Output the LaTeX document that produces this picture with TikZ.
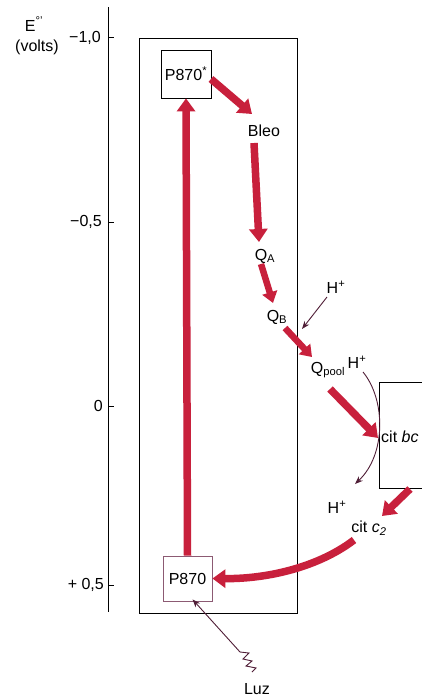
\documentclass[tikz,border=0pt]{standalone}
\usepackage{fontspec}
\setmainfont{Liberation Sans}
\usetikzlibrary{arrows.meta}
\definecolor{redarrow}{RGB}{200,32,60}
\definecolor{thinline}{RGB}{80,30,55}
\definecolor{boxmauve}{RGB}{140,90,115}
\begin{document}
\begin{tikzpicture}[x=1pt,y=-1pt,
  lbl/.style={font=\fontsize{16}{18}\selectfont, inner sep=0pt},
  bigarrow/.style={draw=redarrow, line width=7.5pt, -{Triangle[width=18pt,length=13pt]}},
  midarrow/.style={draw=redarrow, line width=6.5pt, -{Triangle[width=15pt,length=11pt]}},
  thinarrow/.style={draw=thinline, line width=0.9pt, -{Stealth[width=6pt,length=8pt]}},
  pbox/.style={draw, line width=0.8pt, inner sep=0pt, font=\fontsize{16}{18}\selectfont}
]
\clip (0,0) rectangle (422,697);
\fill[white] (0,0) rectangle (422,697);

% axis
\draw[line width=1pt] (108,7) -- (108,612);
\foreach \yy in {37,222,406,585} \draw[line width=0.8pt] (108,\yy) -- (114,\yy);
\node[lbl] (elabel) at (34,24) {E\textsuperscript{°'}};
\node[lbl] (volts) at (37,47) {(volts)};
\node[lbl, anchor=east] (t1) at (101,38) {−1,0};
\node[lbl, anchor=east] (t2) at (102,222) {−0,5};
\node[lbl, anchor=east] (t3) at (103,406) {0};
\node[lbl, anchor=east] (t4) at (104,585) {+ 0,5};

% big rectangle
\draw[line width=0.8pt] (139,38) rectangle (297,613);

% boxes
\node[pbox, minimum width=50pt, minimum height=48pt] (p870s) at (186,74) {P870\textsuperscript{*}};
\node[pbox, draw=boxmauve, minimum width=49pt, minimum height=45pt] (p870) at (187.5,578.5) {P870};

% labels
\node[lbl] (bleo) at (264,131) {Bleo};
\node[lbl] (qa) at (265,256) {Q\textsubscript{A}};
\node[lbl] (qb) at (277,317) {Q\textsubscript{B}};
\node[lbl] (qpool) at (328,370) {Q\textsubscript{pool}};
\node[lbl] (h1) at (336,287) {H\textsuperscript{+}};
\node[lbl] (h2) at (357,362) {H\textsuperscript{+}};
\node[lbl] (h3) at (337,507) {H\textsuperscript{+}};
\node[lbl] (citc2) at (369,528) {cit \textit{c\textsubscript{2}}};
\node[lbl] (luz) at (257,689) {Luz};

% cit bc box
\draw[line width=0.8pt] (440,382) -- (379,382) -- (379,488) -- (440,488);
\node[lbl, anchor=west] (citbc) at (381,437) {cit \textit{bc}};

% red arrows
\coordinate (a1s) at (211,79);
\coordinate (a1e) at (252,114);
\draw[bigarrow] (a1s) -- (a1e);
\coordinate (a2s) at (254,143);
\coordinate (a2e) at (259,242);
\draw[bigarrow] (a2s) -- (a2e);
\coordinate (a3s) at (261,264);
\coordinate (a3e) at (273,303);
\draw[midarrow] (a3s) -- (a3e);
\coordinate (a4s) at (285,328);
\coordinate (a4e) at (312,357);
\draw[midarrow] (a4s) -- (a4e);
\coordinate (a5s) at (330,389);
\coordinate (a5e) at (378,438);
\draw[bigarrow] (a5s) -- (a5e);
\coordinate (a6s) at (410,489);
\coordinate (a6e) at (382,516);
\draw[bigarrow] (a6s) -- (a6e);
\coordinate (a7s) at (354,540);
\draw[bigarrow] (a7s) .. controls (320,566) and (270,579) .. (p870.east);
\draw[bigarrow] (p870.north) -- (p870s.south);

% thin arrows
\coordinate (h1s) at (327,297);
\coordinate (h1e) at (302,329);
\draw[thinarrow] (h1s) -- (h1e);
\coordinate (h2s) at (363,372);
\coordinate (h2e) at (355,484);
\draw[thinarrow] (h2s) .. controls (386,400) and (386,455) .. (h2e);
\coordinate (lz) at (240,652);
\draw[thinarrow] (lz) -- ([xshift=5pt,yshift=2pt]p870.south);
\draw[thinline, line width=0.9pt, line join=miter] (lz) -- (249,653) -- (243,659) -- (252,661) -- (246,666) -- (256,668) -- (252,672);
\end{tikzpicture}
\end{document}
